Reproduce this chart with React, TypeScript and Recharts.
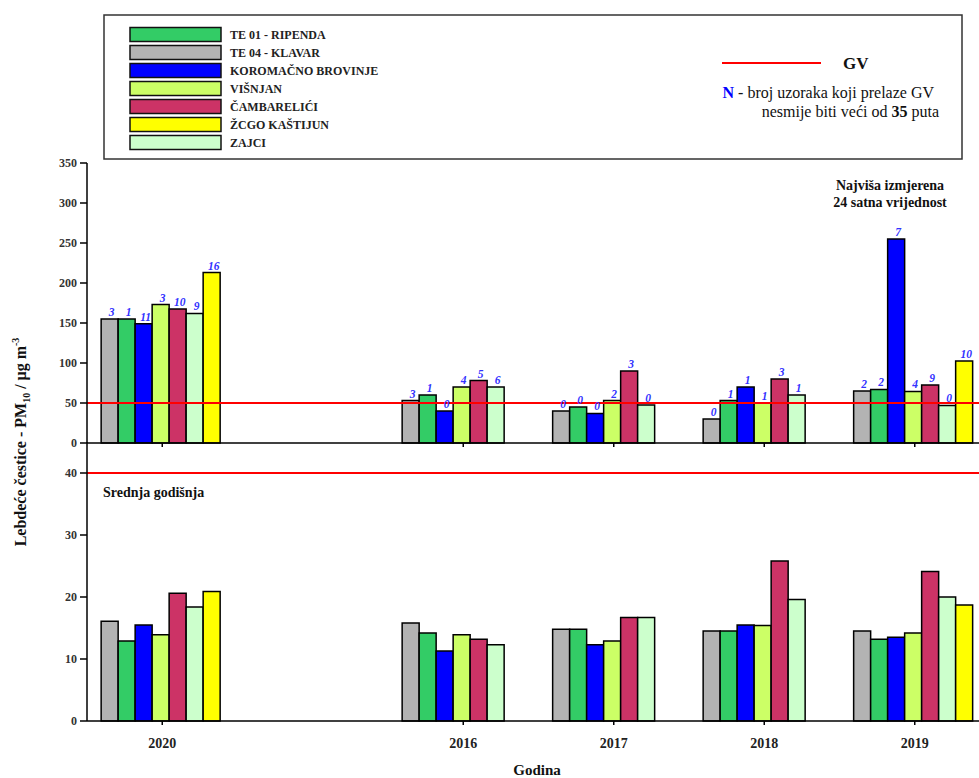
import React from 'react';
import { BarChart, Bar, XAxis, YAxis, ReferenceLine, LabelList } from 'recharts';

// ---------- DATA ----------
const years = ['2020', '', '2016', '2017', '2018', '2019'];

const seriesKeys = ['klavar', 'ripenda', 'koromacno', 'visnjan', 'cambarelici', 'zajci', 'zcgo'];
const seriesNames = ['TE 04 - KLAVAR', 'TE 01 - RIPENDA', 'KOROMAČNO BROVINJE', 'VIŠNJAN', 'ČAMBARELIĆI', 'ZAJCI', 'ŽCGO KAŠTIJUN'];
const seriesColors = ['#b3b3b3', '#33cc66', '#0000ff', '#ccff66', '#cc3366', '#ccffcc', '#ffff00'];
const legendOrder = [1, 0, 2, 3, 4, 6, 5];

// Najviša izmjerena 24 satna vrijednost (µg/m3)
const max24Klavar = [155, null, 53, 40, 30, 65];
const max24Ripenda = [155, null, 60, 45, 53, 67];
const max24Koromacno = [149, null, 40, 37, 70, 255];
const max24Visnjan = [173, null, 70, 53, 50, 64.5];
const max24Cambarelici = [167.5, null, 78, 90, 80, 72.5];
const max24Zajci = [162, null, 70, 47.5, 60, 47];
const max24Zcgo = [213, null, null, null, null, 102.5];

// N - broj uzoraka koji prelaze GV
const nKlavar = ['3', null, '3', '0', '0', '2'];
const nRipenda = ['1', null, '1', '0', '1', '2'];
const nKoromacno = ['11', null, '0', '0', '1', '7'];
const nVisnjan = ['3', null, '4', '2', '1', '4'];
const nCambarelici = ['10', null, '5', '3', '3', '9'];
const nZajci = ['9', null, '6', '0', '1', '0'];
const nZcgo = ['16', null, null, null, null, '10'];

// Srednja godišnja (µg/m3)
const meanKlavar = [16.1, null, 15.8, 14.8, 14.5, 14.5];
const meanRipenda = [12.9, null, 14.2, 14.8, 14.5, 13.2];
const meanKoromacno = [15.5, null, 11.3, 12.3, 15.5, 13.5];
const meanVisnjan = [13.9, null, 13.9, 12.9, 15.4, 14.2];
const meanCambarelici = [20.6, null, 13.2, 16.7, 25.8, 24.1];
const meanZajci = [18.4, null, 12.3, 16.7, 19.6, 20.0];
const meanZcgo = [20.9, null, null, null, null, 18.7];

const gvDaily = 50;
const gvAnnual = 40;

const topMajorTicks = [0, 50, 100, 150, 200, 250, 300, 350];
const topMinorTicks = Array.from({ length: 71 }, (_, i) => i * 5);
const bottomMajorTicks = [0, 10, 20, 30, 40];
const bottomMinorTicks = Array.from({ length: 23 }, (_, i) => i * 2);

const max24Arrays = [max24Klavar, max24Ripenda, max24Koromacno, max24Visnjan, max24Cambarelici, max24Zajci, max24Zcgo];
const nArrays = [nKlavar, nRipenda, nKoromacno, nVisnjan, nCambarelici, nZajci, nZcgo];
const meanArrays = [meanKlavar, meanRipenda, meanKoromacno, meanVisnjan, meanCambarelici, meanZajci, meanZcgo];

const topData = years.map((y, i) => {
  const row: any = { year: y };
  seriesKeys.forEach((k, s) => {
    row[k] = max24Arrays[s][i];
    row[k + 'N'] = nArrays[s][i];
  });
  return row;
});

const bottomData = years.map((y, i) => {
  const row: any = { year: y };
  seriesKeys.forEach((k, s) => {
    row[k] = meanArrays[s][i];
  });
  return row;
});

// ---------- STYLE ----------
const SERIF = '"Liberation Serif", "DejaVu Serif", serif';
const yTickStyle = { fontSize: 12, fontWeight: 'bold', fontFamily: SERIF, fill: '#333' };

const makeXTick = (showLabel: boolean) => (props: any) => {
  const { x, y, payload } = props;
  if (!payload.value) return <g />;
  return (
    <g>
      <line x1={x} x2={x} y1={y} y2={y + 4} stroke="#000" strokeWidth={1.5} />
      {showLabel && (
        <text x={x} y={y + 27} textAnchor="middle" fontSize={14} fontWeight="bold" fontFamily={SERIF} fill="#222">
          {payload.value}
        </text>
      )}
    </g>
  );
};

const nLabel = (props: any) => {
  const { x, y, width, value } = props;
  if (value === null || value === undefined) return null;
  return (
    <text x={x + width / 2 + 2} y={y - 3} textAnchor="middle" fontSize={11.5} fontStyle="italic" fontWeight="bold" fontFamily={SERIF} fill="#3333ff">
      {value}
    </text>
  );
};

const CHART_W = 990;

export default function App() {
  return (
    <div style={{ position: 'absolute', left: 0, top: 0, width: 979, height: 778, overflow: 'hidden', background: '#fff' }}>
      {/* Top chart: maximum 24h values */}
      <div style={{ position: 'absolute', left: 0, top: 0 }}>
        <BarChart
          width={CHART_W}
          height={456}
          data={topData}
          margin={{ top: 163, right: 0, left: 37, bottom: 0 }}
          barCategoryGap="9.4%"
          barGap={0}
        >
          <XAxis
            dataKey="year"
            height={13}
            axisLine={{ stroke: '#000', strokeWidth: 1.5 }}
            tickLine={false}
            tickSize={0}
            tickMargin={0}
            interval={0}
            tick={makeXTick(false)}
          />
          <YAxis
            yAxisId="minor"
            width={0}
            domain={[0, 350]}
            ticks={topMinorTicks}
            interval={0}
            axisLine={false}
            tick={false}
            tickSize={4}
            tickLine={{ stroke: '#000', strokeWidth: 1.2 }}
          />
          <YAxis
            width={50}
            domain={[0, 350]}
            ticks={topMajorTicks}
            interval={0}
            axisLine={{ stroke: '#000', strokeWidth: 1.5 }}
            tickLine={{ stroke: '#000', strokeWidth: 1.5 }}
            tickSize={7}
            tickMargin={3}
            tick={yTickStyle}
          />
          {seriesKeys.map((k, s) => (
            <Bar key={k} dataKey={k} name={seriesNames[s]} fill={seriesColors[s]} stroke="#000" strokeWidth={1.5} isAnimationActive={false}>
              <LabelList dataKey={k + 'N'} content={nLabel} />
            </Bar>
          ))}
          <ReferenceLine y={gvDaily} stroke="#ff0000" strokeWidth={2} />
        </BarChart>
      </div>

      {/* Bottom chart: annual means */}
      <div style={{ position: 'absolute', left: 0, top: 0 }}>
        <BarChart
          width={CHART_W}
          height={778}
          data={bottomData}
          margin={{ top: 442, right: 0, left: 37, bottom: 0 }}
          barCategoryGap="9.4%"
          barGap={0}
        >
          <XAxis
            dataKey="year"
            height={57}
            axisLine={{ stroke: '#000', strokeWidth: 1.5 }}
            tickLine={false}
            tickSize={0}
            tickMargin={0}
            interval={0}
            tick={makeXTick(true)}
          />
          <YAxis
            yAxisId="minor"
            width={0}
            domain={[0, 45]}
            ticks={bottomMinorTicks}
            interval={0}
            axisLine={false}
            tick={false}
            tickSize={4}
            tickLine={{ stroke: '#000', strokeWidth: 1.2 }}
          />
          <YAxis
            width={50}
            domain={[0, 45]}
            ticks={bottomMajorTicks}
            interval={0}
            axisLine={{ stroke: '#000', strokeWidth: 1.5 }}
            tickLine={{ stroke: '#000', strokeWidth: 1.5 }}
            tickSize={7}
            tickMargin={3}
            tick={yTickStyle}
          />
          {seriesKeys.map((k, s) => (
            <Bar key={k} dataKey={k} name={seriesNames[s]} fill={seriesColors[s]} stroke="#000" strokeWidth={1.5} isAnimationActive={false} />
          ))}
          <ReferenceLine y={gvAnnual} stroke="#ff0000" strokeWidth={2} />
        </BarChart>
      </div>

      {/* Annotations, legend box */}
      <svg width={979} height={778} style={{ position: 'absolute', left: 0, top: 0, pointerEvents: 'none' }}>
        <rect x={104} y={15} width={858} height={144} fill="none" stroke="#333" strokeWidth={1.5} />
        {legendOrder.map((s, row) => {
          const cy = 34.5 + row * 18;
          return (
            <g key={s}>
              <rect x={130} y={cy - 7} width={91} height={14} fill={seriesColors[s]} stroke="#111" strokeWidth={1.5} />
              <text x={230} y={cy + 4} fontSize={12} fontWeight="bold" fontFamily={SERIF} fill="#222">
                {seriesNames[s]}
              </text>
            </g>
          );
        })}
        <line x1={722} x2={821} y1={63} y2={63} stroke="#ff0000" strokeWidth={2} />
        <text x={843} y={69} fontSize={17} fontWeight="bold" fontFamily={SERIF} fill="#111">GV</text>
        <text x={934} y={98} textAnchor="end" fontSize={16} fontFamily={SERIF} fill="#111">
          <tspan fill="#0000ff" fontWeight="bold">N</tspan> - broj uzoraka koji prelaze GV
        </text>
        <text x={939} y={117} textAnchor="end" fontSize={16} fontFamily={SERIF} fill="#111">
          nesmije biti veći od <tspan fontWeight="bold">35</tspan> puta
        </text>

        <text x={890} y={190} textAnchor="middle" fontSize={14} fontWeight="bold" fontFamily={SERIF} fill="#111">Najviša izmjerena</text>
        <text x={890} y={207} textAnchor="middle" fontSize={14} fontWeight="bold" fontFamily={SERIF} fill="#111">24 satna vrijednost</text>

        <text x={103} y={497} fontSize={14} fontWeight="bold" fontFamily={SERIF} fill="#111">Srednja godišnja</text>

        <text x={537} y={775} textAnchor="middle" fontSize={15} fontWeight="bold" fontFamily={SERIF} fill="#111">Godina</text>

        <text transform="translate(26,442) rotate(-90)" textAnchor="middle" fontSize={16} fontWeight="bold" fontFamily={SERIF} fill="#111">
          Lebdeće čestice - PM<tspan fontSize={10} dy={4}>10</tspan>
          <tspan dy={-4}> / μg m</tspan>
          <tspan fontSize={10} dy={-7}>-3</tspan>
        </text>
      </svg>
    </div>
  );
}
